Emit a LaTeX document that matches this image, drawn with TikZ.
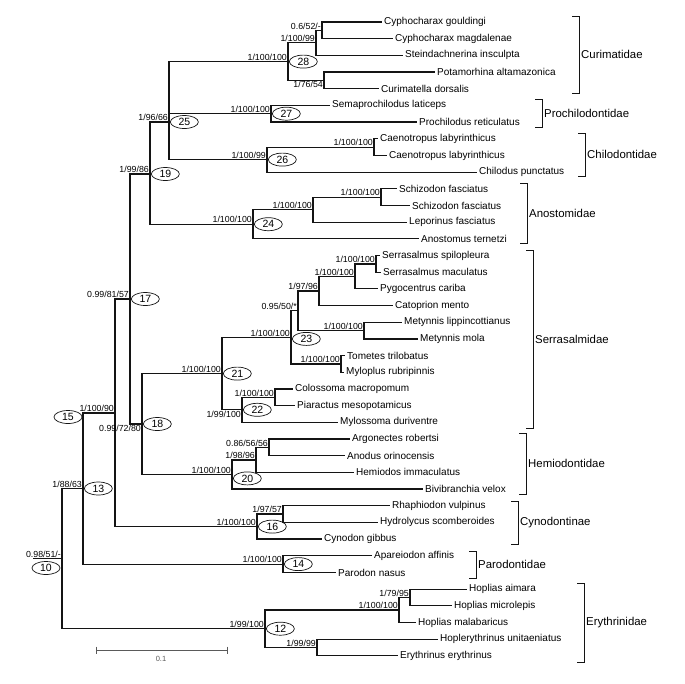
\documentclass[tikz,border=0pt]{standalone}
\usepackage{fontspec}
\setmainfont{Liberation Sans}
\usepackage{tikz}
\usetikzlibrary{positioning,shapes.geometric}
\definecolor{treeline}{RGB}{20,20,20}
\definecolor{scalegray}{RGB}{90,90,90}
\newcommand{\taxon}[4]{%
  \coordinate (#1) at (#3,{22+16.68*#2});%
  \node[taxonlabel] (#1l) at (#1) {#4};%
}
\newcommand{\bootval}[3]{%
  \node[bootlabel,anchor=#2] (b#1) at (#1) {#3};%
}
\newcommand{\famclade}[5]{%
  \draw[famline] (#2-7,#3) -- (#2,#3) -- (#2,#4) -- (#2-7,#4);%
  \node[famlabel] (#1) at (#2,{(#3+#4)/2}) {#5};%
}

\begin{document}
\begin{tikzpicture}[x=1pt,y=-1pt,
  branch/.style={draw=treeline,line width=1.2pt},
  taxonlabel/.style={anchor=west,inner sep=2pt,font=\fontsize{10}{12}\selectfont},
  bootlabel/.style={inner sep=1pt,font=\fontsize{8.8}{10}\selectfont},
  cladeid/.style={ellipse,draw=treeline,line width=0.7pt,inner sep=0pt,minimum width=28pt,minimum height=13pt,font=\fontsize{10.5}{12}\selectfont},
  famline/.style={draw=treeline,line width=0.7pt},
  famlabel/.style={anchor=west,inner sep=2pt,font=\fontsize{11.4}{13}\selectfont},
  scalebar/.style={draw=scalegray,line width=0.6pt}]
  \useasboundingbox (0,0) rectangle (685,683);
  % taxa
  \taxon{cgou}{0}{382}{Cyphocharax gouldingi}
  \taxon{cmag}{1}{393}{Cyphocharax magdalenae}
  \taxon{sins}{2}{403}{Steindachnerina insculpta}
  \taxon{palt}{3}{435}{Potamorhina altamazonica}
  \taxon{cdor}{4}{379}{Curimatella dorsalis}
  \taxon{slat}{5}{330}{Semaprochilodus laticeps}
  \taxon{pret}{6}{417}{Prochilodus reticulatus}
  \taxon{clab}{7}{378}{Caenotropus labyrinthicus}
  \taxon{clabb}{8}{387}{Caenotropus labyrinthicus}
  \taxon{cpun}{9}{477}{Chilodus punctatus}
  \taxon{sfas}{10}{397}{Schizodon fasciatus}
  \taxon{sfasb}{11}{410}{Schizodon fasciatus}
  \taxon{lfas}{12}{407}{Leporinus fasciatus}
  \taxon{ater}{13}{419}{Anostomus ternetzi}
  \taxon{sspi}{14}{380}{Serrasalmus spilopleura}
  \taxon{smac}{15}{381}{Serrasalmus maculatus}
  \taxon{pcar}{16}{378}{Pygocentrus cariba}
  \taxon{cmen}{17}{393}{Catoprion mento}
  \taxon{mlip}{18}{402}{Metynnis lippincottianus}
  \taxon{mmol}{19}{418}{Metynnis mola}
  \taxon{ttri}{20}{345}{Tometes trilobatus}
  \taxon{mrub}{21}{344}{Myloplus rubripinnis}
  \taxon{cmac}{22}{293}{Colossoma macropomum}
  \taxon{pmes}{23}{295}{Piaractus mesopotamicus}
  \taxon{mdur}{24}{338}{Mylossoma duriventre}
  \taxon{arob}{25}{350}{Argonectes robertsi}
  \taxon{aori}{26}{345}{Anodus orinocensis}
  \taxon{himm}{27}{354}{Hemiodos immaculatus}
  \taxon{bvel}{28}{423}{Bivibranchia velox}
  \taxon{rvul}{29}{390}{Rhaphiodon vulpinus}
  \taxon{hsco}{30}{378}{Hydrolycus scomberoides}
  \taxon{cgib}{31}{322}{Cynodon gibbus}
  \taxon{aaff}{32}{372}{Apareiodon affinis}
  \taxon{pnas}{33}{336}{Parodon nasus}
  \taxon{haim}{34}{467}{Hoplias aimara}
  \taxon{hmic}{35}{452}{Hoplias microlepis}
  \taxon{hmal}{36}{416}{Hoplias malabaricus}
  \taxon{huni}{37}{438}{Hoplerythrinus unitaeniatus}
  \taxon{eery}{38}{398}{Erythrinus erythrinus}
  % internal nodes
  \coordinate (cyph) at (322,30.3);
  \coordinate (cyphst) at (316,42.8);
  \coordinate (potcur) at (324,80.4);
  \coordinate (n28) at (288,61.6);
  \coordinate (n27) at (271,113.7);
  \coordinate (caeno) at (374,147.1);
  \coordinate (n26) at (267,159.6);
  \coordinate (n25) at (169,122);
  \coordinate (schiz) at (381,197.1);
  \coordinate (schizlep) at (313,209.6);
  \coordinate (n24) at (253,224.2);
  \coordinate (n19) at (150,174);
  \coordinate (serr) at (376,263.9);
  \coordinate (serrpyg) at (355,276.4);
  \coordinate (serrcat) at (319,291);
  \coordinate (met) at (364,330.6);
  \coordinate (serrmet) at (298,310.8);
  \coordinate (tomet) at (341,364);
  \coordinate (n23) at (291,337.4);
  \coordinate (colpia) at (275,397.3);
  \coordinate (n22) at (242,409.8);
  \coordinate (n21) at (222,373.6);
  \coordinate (argano) at (269,447.3);
  \coordinate (argh) at (256,459.9);
  \coordinate (n20) at (232,474.4);
  \coordinate (n18) at (142,424);
  \coordinate (n17) at (130,299);
  \coordinate (rhahyd) at (283,514);
  \coordinate (n16) at (257,526.6);
  \coordinate (n15) at (115,413);
  \coordinate (n14) at (283,564.1);
  \coordinate (n13) at (83,488.5);
  \coordinate (haimic) at (410,597.5);
  \coordinate (hopl) at (399,610);
  \coordinate (hoplery) at (317,647.5);
  \coordinate (n12) at (265,628.7);
  \coordinate (n10) at (62,558.6);
  \coordinate (rootstub) at (33,558.6);
  % branches
  \foreach \p/\c in {cyph/cgou,cyph/cmag,cyphst/cyph,cyphst/sins,potcur/palt,potcur/cdor,n28/cyphst,n28/potcur,
    n27/slat,n27/pret,caeno/clab,caeno/clabb,n26/caeno,n26/cpun,n25/n28,n25/n27,n25/n26,
    schiz/sfas,schiz/sfasb,schizlep/schiz,schizlep/lfas,n24/schizlep,n24/ater,n19/n25,n19/n24,
    serr/sspi,serr/smac,serrpyg/serr,serrpyg/pcar,serrcat/serrpyg,serrcat/cmen,met/mlip,met/mmol,
    serrmet/serrcat,serrmet/met,tomet/ttri,tomet/mrub,n23/serrmet,n23/tomet,
    colpia/cmac,colpia/pmes,n22/colpia,n22/mdur,n21/n23,n21/n22,
    argano/arob,argano/aori,argh/argano,argh/himm,n20/argh,n20/bvel,n18/n21,n18/n20,n17/n19,n17/n18,
    rhahyd/rvul,rhahyd/hsco,n16/rhahyd,n16/cgib,n15/n17,n15/n16,n14/aaff,n14/pnas,n13/n15,n13/n14,
    haimic/haim,haimic/hmic,hopl/haimic,hopl/hmal,hoplery/huni,hoplery/eery,n12/hopl,n12/hoplery,
    n10/n13,n10/n12}
    \draw[branch] (\p) |- (\c);
  \draw[branch] (rootstub) -- (n10);
  % support values
  \bootval{cyph}{south east}{0.6/52/-}
  \bootval{cyphst}{south east}{1/100/99}
  \bootval{n28}{south east}{1/100/100}
  \bootval{potcur}{north east}{1/76/54}
  \bootval{n25}{south east}{1/96/66}
  \bootval{n27}{south east}{1/100/100}
  \bootval{caeno}{south east}{1/100/100}
  \bootval{n26}{south east}{1/100/99}
  \bootval{n19}{south east}{1/99/86}
  \bootval{schiz}{south east}{1/100/100}
  \bootval{schizlep}{south east}{1/100/100}
  \bootval{n24}{south east}{1/100/100}
  \bootval{serr}{south east}{1/100/100}
  \bootval{serrpyg}{south east}{1/100/100}
  \bootval{serrcat}{south east}{1/97/96}
  \bootval{serrmet}{south east}{0.95/50/*}
  \bootval{met}{south east}{1/100/100}
  \bootval{n17}{south east}{0.99/81/57}
  \bootval{n23}{south east}{1/100/100}
  \bootval{tomet}{south east}{1/100/100}
  \bootval{n21}{south east}{1/100/100}
  \bootval{colpia}{south east}{1/100/100}
  \bootval{n22}{north east}{1/99/100}
  \bootval{n15}{south east}{1/100/90}
  \bootval{n18}{north east}{0.99/72/80}
  \bootval{argano}{south east}{0.86/56/56}
  \bootval{argh}{south east}{1/98/96}
  \bootval{n20}{south east}{1/100/100}
  \bootval{n13}{south east}{1/88/63}
  \bootval{rhahyd}{south east}{1/97/57}
  \bootval{n16}{south east}{1/100/100}
  \bootval{n10}{south east}{0.98/51/-}
  \bootval{n14}{south east}{1/100/100}
  \bootval{haimic}{south east}{1/79/95}
  \bootval{hopl}{south east}{1/100/100}
  \bootval{n12}{south east}{1/99/100}
  \bootval{hoplery}{south east}{1/99/99}
  % clade numbers
  \node[cladeid,right=1pt of n28] (e28) {28};
  \node[cladeid,right=1pt of n25] (e25) {25};
  \node[cladeid,right=1pt of n27] (e27) {27};
  \node[cladeid,right=1pt of n26] (e26) {26};
  \node[cladeid,right=1pt of n19] (e19) {19};
  \node[cladeid,right=1pt of n24] (e24) {24};
  \node[cladeid,right=1pt of n17] (e17) {17};
  \node[cladeid,right=1pt of n23,yshift=-1.5pt] (e23) {23};
  \node[cladeid,right=1pt of n21] (e21) {21};
  \node[cladeid,right=1pt of n22] (e22) {22};
  \node[cladeid,right=1pt of n18] (e18) {18};
  \node[cladeid,right=1pt of n20,yshift=-4pt] (e20) {20};
  \node[cladeid,right=1pt of n13] (e13) {13};
  \node[cladeid,right=1pt of n16] (e16) {16};
  \node[cladeid,right=1pt of n14] (e14) {14};
  \node[cladeid,right=1pt of n12] (e12) {12};
  \node[cladeid] (e15) at (68,417) {15};
  \node[cladeid] (e10) at (46,568) {10};
  % families
  \famclade{fcur}{579}{16}{93}{Curimatidae}
  \famclade{fpro}{542}{99}{127}{Prochilodontidae}
  \famclade{fchi}{585}{133}{176}{Chilodontidae}
  \famclade{fano}{527}{183}{243}{Anostomidae}
  \famclade{fser}{533}{250}{428}{Serrasalmidae}
  \famclade{fhem}{526}{433}{494}{Hemiodontidae}
  \famclade{fcyn}{518}{501}{544}{Cynodontinae}
  \famclade{fpar}{476}{551}{578}{Parodontidae}
  \famclade{fery}{584}{583}{662}{Erythrinidae}
  % scale
  \coordinate (sbl) at (96,650);
  \coordinate (sbr) at (227,650);
  \draw[scalebar] (sbl) -- (sbr) (96,646.5) -- (96,653.5) (227,646.5) -- (227,653.5);
  \node[font=\fontsize{7.5}{9}\selectfont,text=scalegray] (sblab) at (161,659) {0.1};
\end{tikzpicture}
\end{document}
